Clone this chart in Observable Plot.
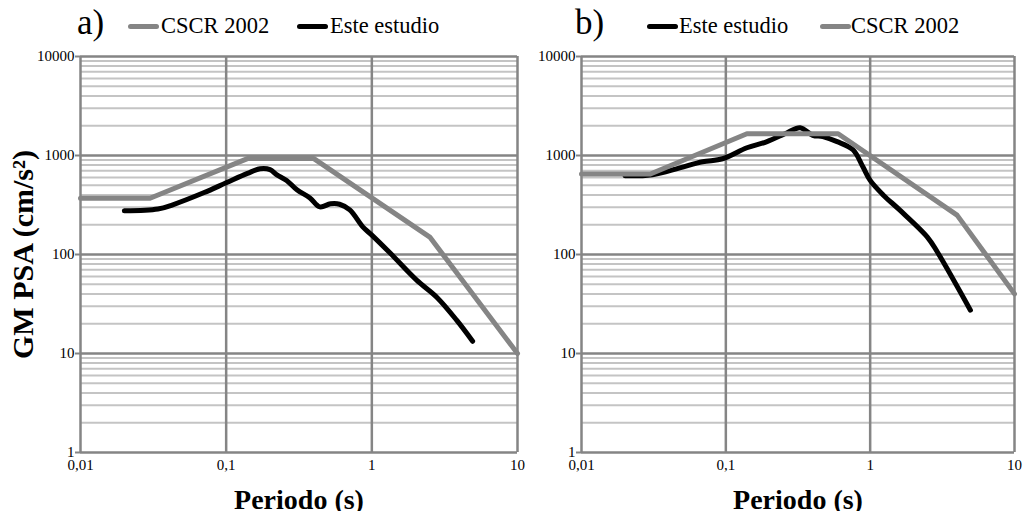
<!DOCTYPE html>
<html>
<head>
<meta charset="utf-8">
<script src="https://cdn.jsdelivr.net/npm/d3@7"></script>
<script src="https://cdn.jsdelivr.net/npm/@observablehq/plot@0.6"></script>
<style>
  html, body { margin: 0; padding: 0; background: #fff; }
  #wrap { position: relative; width: 1029px; height: 511px; overflow: hidden; font-family: "Liberation Serif", serif; color: #000; }
  .panel { position: absolute; top: 0; }
  .hdr { position: absolute; line-height: 1; white-space: nowrap; }
  .tag { font-size: 35px; }
  .leg { font-size: 22.5px; }
  .sw { position: absolute; height: 5px; border-radius: 3px; }
</style>
</head>
<body>
<div id="wrap">
  <div id="panelA" class="panel" style="left:0"></div>
  <div id="panelB" class="panel" style="left:520px"></div>

  <div class="hdr tag" style="left:77px;top:5px">a)</div>
  <div class="sw" style="left:128px;top:24px;width:31px;background:#858585"></div>
  <div class="hdr leg" style="left:161px;top:15px">CSCR 2002</div>
  <div class="sw" style="left:297px;top:24px;width:31px;background:#000"></div>
  <div class="hdr leg" style="left:330px;top:15px">Este estudio</div>

  <div class="hdr tag" style="left:575px;top:5px">b)</div>
  <div class="sw" style="left:647px;top:24px;width:31px;background:#000"></div>
  <div class="hdr leg" style="left:679px;top:15px">Este estudio</div>
  <div class="sw" style="left:820px;top:24px;width:31px;background:#858585"></div>
  <div class="hdr leg" style="left:851px;top:15px">CSCR 2002</div>
</div>
<script>
// ---- axis ticks ----
const xTicks = [0.01, 0.1, 1, 10];
const xTickLabels = ["0,01", "0,1", "1", "10"];
const yTicks = [1, 10, 100, 1000, 10000];
const yTickLabels = ["1", "10", "100", "1000", "10000"];
const minorMantissa = [2, 3, 4, 5, 6, 7, 8, 9];
const minorY = [1, 10, 100, 1000].flatMap(d => minorMantissa.map(m => m * d));

// ---- panel a) ----
const periodA_CSCR = [0.01, 0.03, 0.14, 0.4, 2.5, 10];
const psaA_CSCR    = [370, 370, 930, 930, 150, 10];
const periodA_Este = [0.02, 0.034, 0.043, 0.07, 0.10, 0.14, 0.171, 0.2, 0.223, 0.26, 0.306, 0.376, 0.44, 0.52, 0.6, 0.706, 0.867, 1.0, 1.33, 2.03, 2.79, 3.82, 4.92];
const psaA_Este    = [276, 288, 318, 420, 530, 660, 734, 720, 638, 560, 450, 373, 303, 325, 322, 282, 190, 157, 104, 55, 37, 21.7, 13.3];

// ---- panel b) ----
const periodB_CSCR = [0.01, 0.03, 0.14, 0.6, 4, 10];
const psaB_CSCR    = [650, 650, 1660, 1660, 250, 40];
const periodB_Este = [0.02, 0.031, 0.048, 0.069, 0.095, 0.14, 0.193, 0.266, 0.327, 0.4, 0.47, 0.59, 0.76, 0.89, 1.0, 1.23, 1.6, 2.49, 2.92, 4.95];
const psaB_Este    = [623, 640, 751, 864, 927, 1197, 1380, 1700, 1910, 1600, 1550, 1380, 1143, 769, 560, 400, 282, 150, 106, 27.4];

const GRAY = "#858585";
const MINOR = "#c4c4c4";
const FONT = "Liberation Serif";

function series(periods, values) {
  return periods.map((p, i) => ({period: p, psa: values[i]}));
}

function panel({width, marginLeft, marginRight, first, second, yLabel}) {
  const lineMark = s => Plot.line(series(s.p, s.v), {
    x: "period", y: "psa", stroke: s.color, strokeWidth: 5,
    curve: s.curve, strokeLinecap: "round", strokeLinejoin: "round"
  });
  const marks = [
    Plot.ruleY(minorY, {stroke: MINOR, strokeWidth: 2}),
    Plot.ruleY(yTicks, {stroke: GRAY, strokeWidth: 2.5}),
    Plot.ruleX(xTicks, {stroke: GRAY, strokeWidth: 2.5}),
    // small tick marks left of the y axis
    Plot.tickY(yTicks, {y: d => d, stroke: GRAY, strokeWidth: 2,
      render: (index, scales, values, dimensions, context, next) => {
        const g = next(index, scales, values, dimensions, context);
        g.querySelectorAll("line").forEach(l => {
          l.setAttribute("x1", dimensions.marginLeft - 5);
          l.setAttribute("x2", dimensions.marginLeft);
        });
        return g;
      }
    }),
    Plot.text(yTicks, {
      y: d => d, text: d => yTickLabels[yTicks.indexOf(d)],
      frameAnchor: "left", textAnchor: "end", dx: -6,
      fontFamily: FONT, fontSize: 15, fill: "#000"
    }),
    Plot.text(xTicks, {
      x: d => d, text: d => xTickLabels[xTicks.indexOf(d)],
      frameAnchor: "bottom", lineAnchor: "top", dy: 7,
      fontFamily: FONT, fontSize: 15, fill: "#000"
    }),
    lineMark(first),
    lineMark(second),
    Plot.text(["Periodo (s)"], {
      frameAnchor: "bottom", lineAnchor: "top", textAnchor: "middle", dy: 37,
      fontFamily: FONT, fontSize: 28, fontWeight: "bold", fill: "#000"
    })
  ];
  if (yLabel) {
    marks.push(Plot.text([yLabel], {
      frameAnchor: "left", textAnchor: "middle", lineAnchor: "middle", dx: -57, rotate: -90,
      fontFamily: FONT, fontSize: 30, fontWeight: "bold", fill: "#000"
    }));
  }
  return Plot.plot({
    width, height: 511,
    marginLeft, marginRight, marginTop: 56, marginBottom: 59,
    style: {fontFamily: FONT, fontSize: "15px", color: "#000", background: "transparent", overflow: "visible"},
    x: {type: "log", domain: [0.01, 10], axis: null},
    y: {type: "log", domain: [1, 10000], axis: null},
    marks
  });
}

document.getElementById("panelA").append(panel({
  width: 525, marginLeft: 80, marginRight: 8,
  first:  {p: periodA_CSCR, v: psaA_CSCR, color: GRAY, curve: "linear"},
  second: {p: periodA_Este, v: psaA_Este, color: "#000", curve: "catmull-rom"},
  yLabel: "GM PSA (cm/s²)"
}));

document.getElementById("panelB").append(panel({
  width: 509, marginLeft: 61, marginRight: 15,
  first:  {p: periodB_Este, v: psaB_Este, color: "#000", curve: "catmull-rom"},
  second: {p: periodB_CSCR, v: psaB_CSCR, color: GRAY, curve: "linear"},
  yLabel: null
}));
</script>
</body>
</html>
